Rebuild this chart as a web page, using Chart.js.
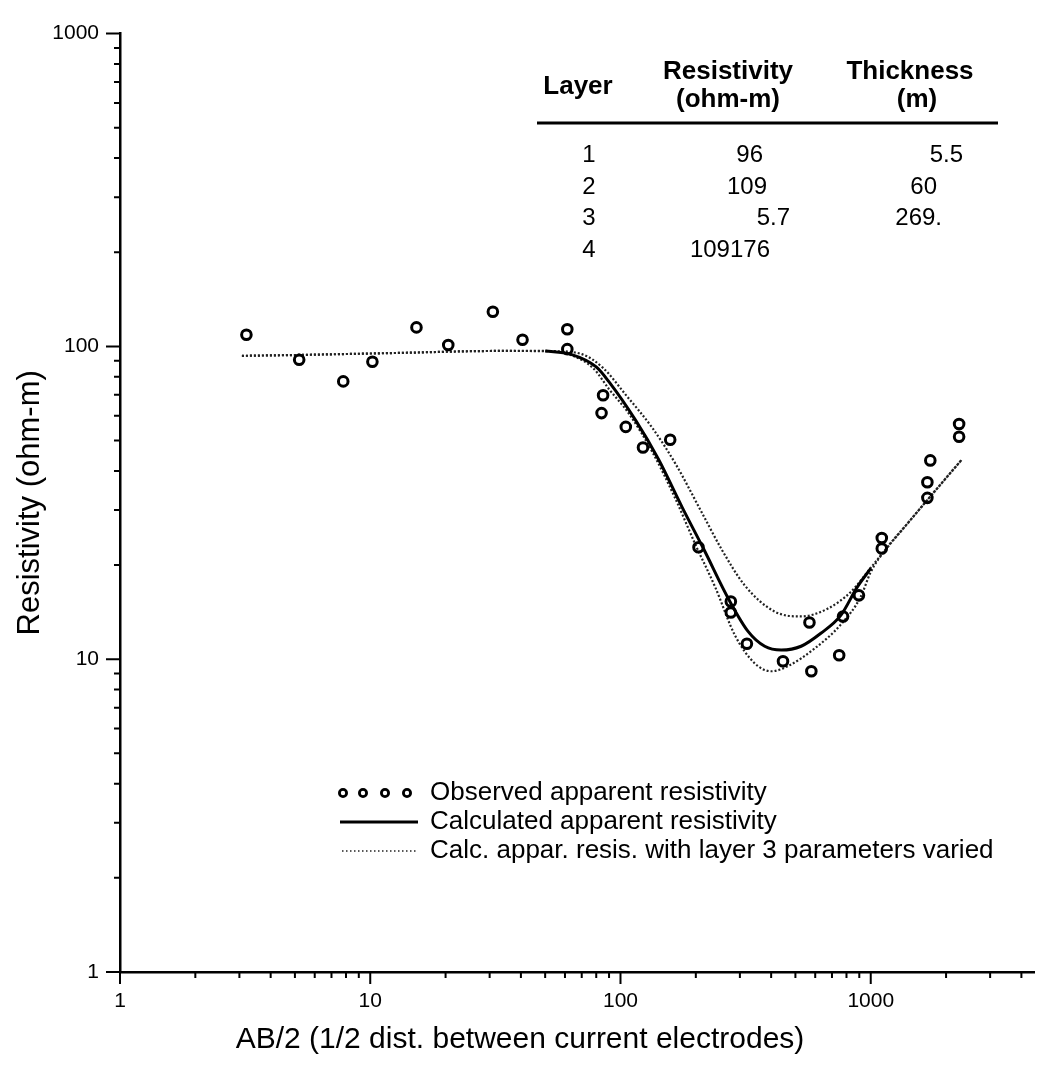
<!DOCTYPE html>
<html lang="en">
<head>
  <meta charset="UTF-8">
  <title>VES sounding curve</title>
  <script src="https://cdn.jsdelivr.net/npm/chart.js"></script>
  <style>
    html, body { margin: 0; padding: 0; background: #fff; }
    .chart-container { position: relative; width: 1042px; height: 1072px; }
  </style>
</head>
<body>
  <div class="chart-container">
    <canvas id="vesChart"></canvas>
  </div>

  <script>
    // observed apparent resistivity (AB/2, ohm-m)
    const obsX = [3.2, 5.2, 7.8, 10.2, 15.3, 20.5, 30.9, 40.6, 61.3, 61.3, 85.2, 84, 105, 123, 158,
                  205, 276, 276, 320, 446, 569, 579, 748, 775, 897, 1107, 1107, 1684, 1684, 1730, 2255, 2255];
    const obsY = [109, 90.6, 77.3, 89.3, 115, 101, 129, 105, 113.5, 98, 69.8, 61.2, 55.3, 47.5, 50.3,
                  22.8, 15.3, 14.1, 11.2, 9.85, 13.1, 9.15, 10.3, 13.7, 16.0, 24.4, 22.6, 32.8, 36.8, 43.2, 56.5, 51.4];

    // calculated curve
    const calcX = [50, 63, 80, 90, 115, 142, 176, 215, 270, 324, 377, 439, 527, 632, 759, 883, 1000];
    const calcY = [96.7, 94.5, 86, 77, 58, 43.5, 30.7, 22.5, 15.6, 12.25, 11.0, 10.7, 11.0, 12.1, 13.8, 17.0, 19.5];

    // layer 3 varied (upper and lower curves)
    const upperX = [3.07, 5.17, 12.9, 32.3, 55, 70, 85, 105, 134, 166, 212, 254, 314, 413, 527, 672, 832, 1000, 1145, 1400, 1684, 2303];
    const upperY = [93.3, 93.9, 95.3, 96.7, 96.5, 94.5, 85.5, 70, 54.9, 42.1, 29.3, 22.4, 17.2, 14.2, 13.7, 14.5, 16.4, 19.6, 22.4, 27.1, 32.3, 43.3];
    const lowerX = [3.07, 5.17, 12.9, 32.3, 50, 63, 78, 90, 108, 134, 166, 199, 239, 287, 344, 401, 466, 595, 759, 911, 1000, 1145, 1400, 1684, 2303];
    const lowerY = [93.3, 93.9, 95.3, 96.7, 96.7, 94, 85, 73, 61, 46, 32.5, 23.3, 17.0, 11.9, 9.7, 9.15, 9.5, 10.8, 12.9, 15.8, 19.0, 22.4, 27.1, 32.3, 43.3];

    const xTickLabels = [1, 10, 100, 1000];
    const yTickLabels = [1, 10, 100, 1000];

    const tableLayers = ['1', '2', '3', '4'];
    const tableResistivity = ['96', '109', '5.7', '109176'];
    const tableThickness = ['5.5', '60', '269.', ''];

    const legendLabels = ['Observed apparent resistivity', 'Calculated apparent resistivity',
                          'Calc. appar. resis. with layer 3 parameters varied'];

    const FONT = '"Liberation Sans", Arial, Helvetica, sans-serif';
    Chart.defaults.font.family = FONT;
    Chart.defaults.color = '#000';

    function points(xs, ys) {
      return xs.map((x, i) => ({ x: x, y: ys[i] }));
    }

    function minorTicks(max) {
      const out = [];
      for (let d = 1; d < max; d *= 10) {
        for (let k = 2; k <= 9; k++) {
          if (k * d <= max) out.push(k * d);
        }
      }
      return out;
    }

    // tick marks, data table and legend
    const overlay = {
      id: 'overlay',
      afterDraw(chart) {
        const ctx = chart.ctx;
        const sx = chart.scales.x, sy = chart.scales.y;
        const a = chart.chartArea;
        ctx.save();
        ctx.strokeStyle = '#000';
        ctx.lineWidth = 2;
        ctx.beginPath();
        xTickLabels.forEach(v => {
          const p = sx.getPixelForValue(v);
          ctx.moveTo(p, a.bottom); ctx.lineTo(p, a.bottom + 12);
        });
        minorTicks(4500).forEach(v => {
          const p = sx.getPixelForValue(v);
          ctx.moveTo(p, a.bottom); ctx.lineTo(p, a.bottom + 6);
        });
        yTickLabels.forEach(v => {
          const p = sy.getPixelForValue(v);
          ctx.moveTo(a.left - 14, p); ctx.lineTo(a.left, p);
        });
        minorTicks(999).forEach(v => {
          const p = sy.getPixelForValue(v);
          ctx.moveTo(a.left - 6, p); ctx.lineTo(a.left, p);
        });
        ctx.stroke();

        // table
        ctx.fillStyle = '#000';
        ctx.textBaseline = 'middle';
        ctx.font = 'bold 26px ' + FONT;
        ctx.textAlign = 'center';
        ctx.fillText('Layer', 578, 87);
        ctx.fillText('Resistivity', 728, 72);
        ctx.fillText('(ohm-m)', 728, 100);
        ctx.fillText('Thickness', 910, 72);
        ctx.fillText('(m)', 917, 100);
        ctx.lineWidth = 3;
        ctx.beginPath();
        ctx.moveTo(537, 123); ctx.lineTo(998, 123);
        ctx.stroke();

        const rowY = [155, 187, 218, 250];
        const resRight = [763, 767, 790, 770];
        const thickRight = [963, 937, 942, 942];
        ctx.font = '24px ' + FONT;
        tableLayers.forEach((t, i) => {
          ctx.textAlign = 'center';
          ctx.fillText(t, 589, rowY[i]);
          ctx.textAlign = 'right';
          ctx.fillText(tableResistivity[i], resRight[i], rowY[i]);
          ctx.fillText(tableThickness[i], thickRight[i], rowY[i]);
        });

        // legend
        const ds = chart.data.datasets;
        const legY = [793, 822, 851];
        ctx.lineWidth = 2.8;
        [343, 363, 385, 407].forEach(cx => {
          ctx.beginPath();
          ctx.arc(cx, legY[0], 3.6, 0, Math.PI * 2);
          ctx.stroke();
        });
        ctx.lineWidth = ds[1].borderWidth;
        ctx.strokeStyle = ds[1].borderColor;
        ctx.beginPath();
        ctx.moveTo(340, legY[1]); ctx.lineTo(418, legY[1]);
        ctx.stroke();
        ctx.lineWidth = 1.4;
        ctx.strokeStyle = ds[2].borderColor;
        ctx.setLineDash([1.5, 2.5]);
        ctx.beginPath();
        ctx.moveTo(342, legY[2]); ctx.lineTo(416, legY[2]);
        ctx.stroke();
        ctx.setLineDash([]);
        ctx.font = '26px ' + FONT;
        ctx.textAlign = 'left';
        legendLabels.forEach((t, i) => ctx.fillText(t, 430, legY[i]));
        ctx.restore();
      }
    };

    const ctx = document.getElementById('vesChart').getContext('2d');
    new Chart(ctx, {
      type: 'scatter',
      data: {
        datasets: [
          {
            label: legendLabels[0],
            data: points(obsX, obsY),
            showLine: false,
            pointRadius: 4.8,
            pointBorderWidth: 3,
            pointBorderColor: '#000',
            pointBackgroundColor: 'rgba(0,0,0,0)'
          },
          {
            label: legendLabels[1],
            data: points(calcX, calcY),
            showLine: true,
            borderColor: '#000',
            borderWidth: 3,
            pointRadius: 0,
            cubicInterpolationMode: 'monotone'
          },
          {
            label: legendLabels[2],
            data: points(upperX, upperY),
            showLine: true,
            borderColor: '#222',
            borderWidth: 2.2,
            borderDash: [2, 2],
            pointRadius: 0,
            cubicInterpolationMode: 'monotone'
          },
          {
            label: legendLabels[2],
            data: points(lowerX, lowerY),
            showLine: true,
            borderColor: '#222',
            borderWidth: 2.2,
            borderDash: [2, 2],
            pointRadius: 0,
            cubicInterpolationMode: 'monotone'
          }
        ]
      },
      options: {
        responsive: true,
        maintainAspectRatio: false,
        animation: false,
        layout: { padding: { top: 20, right: 2, left: 0, bottom: 0 } },
        plugins: {
          legend: { display: false },
          tooltip: { enabled: false },
          title: {
            display: true,
            position: 'bottom',
            text: 'AB/2 (1/2 dist. between current electrodes)',
            color: '#000',
            font: { size: 30, weight: 'normal' },
            padding: { top: 0, bottom: 14 }
          }
        },
        scales: {
          x: {
            type: 'logarithmic',
            min: 1,
            max: 4500,
            grid: { display: false, drawTicks: false, tickLength: 0 },
            border: { display: true, color: '#000', width: 2.5 },
            ticks: {
              font: { size: 21 },
              color: '#000',
              padding: 17,
              autoSkip: false,
              maxRotation: 0,
              callback: v => String(v)
            },
            afterBuildTicks: s => { s.ticks = xTickLabels.map(v => ({ value: v })); },
            afterFit: s => { s.height = 50; }
          },
          y: {
            type: 'logarithmic',
            min: 1,
            max: 1000,
            grid: { display: false, drawTicks: false, tickLength: 0 },
            border: { display: true, color: '#000', width: 2.5 },
            ticks: {
              font: { size: 21 },
              color: '#000',
              padding: 21,
              autoSkip: false,
              callback: v => String(v)
            },
            title: {
              display: true,
              text: 'Resistivity (ohm-m)',
              color: '#000',
              font: { size: 31 },
              padding: { top: 12, bottom: 0 }
            },
            afterBuildTicks: s => { s.ticks = yTickLabels.map(v => ({ value: v })); },
            afterFit: s => { s.width = 120; }
          }
        }
      },
      plugins: [overlay]
    });
  </script>
</body>
</html>
